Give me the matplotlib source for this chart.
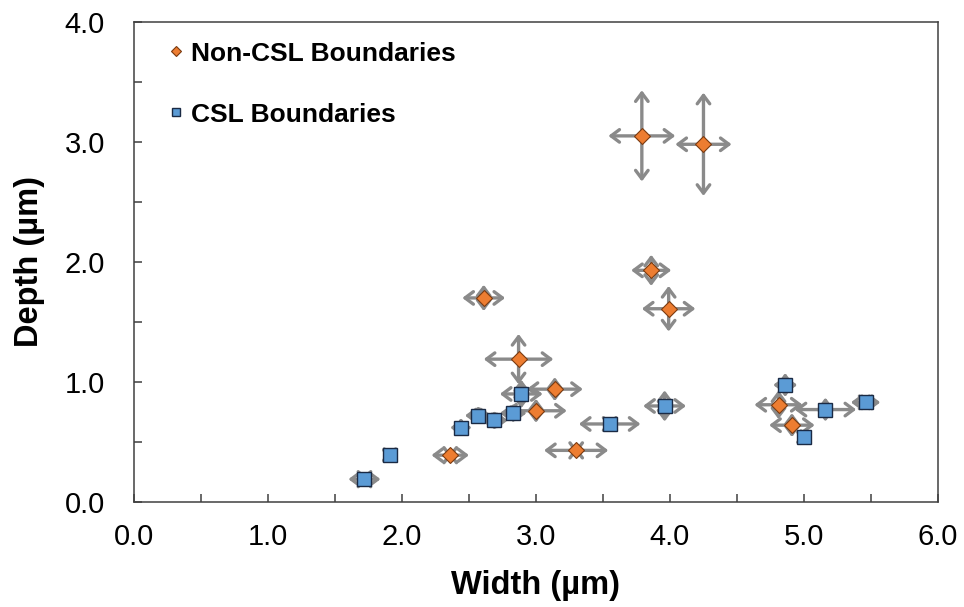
import matplotlib
matplotlib.use('Agg')
import matplotlib.pyplot as plt
from matplotlib.ticker import MultipleLocator, FormatStrFormatter

plt.rcParams['font.family'] = ['Liberation Sans', 'DejaVu Sans']

# Non-CSL boundaries
non_x = [2.36, 2.61, 2.87, 3.00, 3.14, 3.30, 3.79, 3.86, 3.99, 4.25, 4.81, 4.91]
non_y = [0.39, 1.70, 1.19, 0.76, 0.94, 0.43, 3.05, 1.93, 1.61, 2.98, 0.81, 0.64]
non_xerr = [0.14, 0.16, 0.26, 0.23, 0.21, 0.24, 0.25, 0.15, 0.20, 0.21, 0.18, 0.17]
non_yerr = [0.03, 0.11, 0.21, 0.10, 0.10, 0.03, 0.38, 0.13, 0.19, 0.43, 0.12, 0.10]

# CSL boundaries
csl_x = [1.72, 1.91, 2.44, 2.57, 2.69, 2.83, 2.89, 3.55, 3.96, 4.86, 5.00, 5.16, 5.46]
csl_y = [0.19, 0.39, 0.62, 0.72, 0.68, 0.74, 0.90, 0.65, 0.80, 0.975, 0.54, 0.77, 0.83]
csl_xerr = [0.12, 0.04, 0.08, 0.10, 0.10, 0.10, 0.16, 0.23, 0.16, 0.09, 0.06, 0.23, 0.11]
csl_yerr = [0.03, 0.05, 0.08, 0.08, 0.08, 0.08, 0.12, 0.04, 0.13, 0.10, 0.05, 0.10, 0.04]

ERR_COLOR = '#8a8a8a'


def arrow_errors(ax, xs, ys, xerr, yerr, z):
    props = dict(arrowstyle='->,head_length=0.6,head_width=0.45', color=ERR_COLOR,
                 lw=2.4, shrinkA=0, shrinkB=0)
    for x, y, dx, dy in zip(xs, ys, xerr, yerr):
        for tx, ty in [(x - dx, y), (x + dx, y), (x, y - dy), (x, y + dy)]:
            a = ax.annotate('', xy=(tx, ty), xytext=(x, y), arrowprops=props,
                            annotation_clip=False)
            a.set_zorder(z)


fig = plt.figure(figsize=(9.64, 6.07), dpi=100)
ax = fig.add_axes([0.139, 0.173, 0.834, 0.791])

arrow_errors(ax, non_x, non_y, non_xerr, non_yerr, 2)
ax.plot(non_x, non_y, linestyle='none', marker='D', markersize=8.5,
        markerfacecolor='#ED7D31', markeredgecolor='#7a3a10', markeredgewidth=0.8,
        label='Non-CSL Boundaries', zorder=3)
arrow_errors(ax, csl_x, csl_y, csl_xerr, csl_yerr, 4)
ax.plot(csl_x, csl_y, linestyle='none', marker='s', markersize=9.5,
        markerfacecolor='#5B9BD5', markeredgecolor='#1a2a44', markeredgewidth=1.0,
        label='CSL Boundaries', zorder=5)

ax.set_xlim(0, 6)
ax.set_ylim(0, 4)
ax.xaxis.set_major_locator(MultipleLocator(1.0))
ax.xaxis.set_minor_locator(MultipleLocator(0.5))
ax.yaxis.set_major_locator(MultipleLocator(1.0))
ax.yaxis.set_minor_locator(MultipleLocator(0.5))
ax.xaxis.set_major_formatter(FormatStrFormatter('%.1f'))
ax.yaxis.set_major_formatter(FormatStrFormatter('%.1f'))
ax.tick_params(which='both', direction='in', length=6, width=1.1, color='#404040')
ax.tick_params(axis='x', which='major', labelsize=21, pad=15)
ax.tick_params(axis='y', which='major', labelsize=21, pad=21)
for s in ax.spines.values():
    s.set_color('#404040')
    s.set_linewidth(1.1)

ax.set_xlabel('Width (µm)', fontsize=23.5, fontweight='bold', labelpad=14)
ax.set_ylabel('Depth (µm)', fontsize=23.5, fontweight='bold', labelpad=14)

ax.legend(loc='upper left', frameon=False, prop={'weight': 'bold', 'size': 19},
          markerscale=0.6, handlelength=0.5, handletextpad=0.3, labelspacing=1.4,
          borderaxespad=0.35, bbox_to_anchor=(0.02, 1.0))

fig.savefig('out.png', dpi=100)
